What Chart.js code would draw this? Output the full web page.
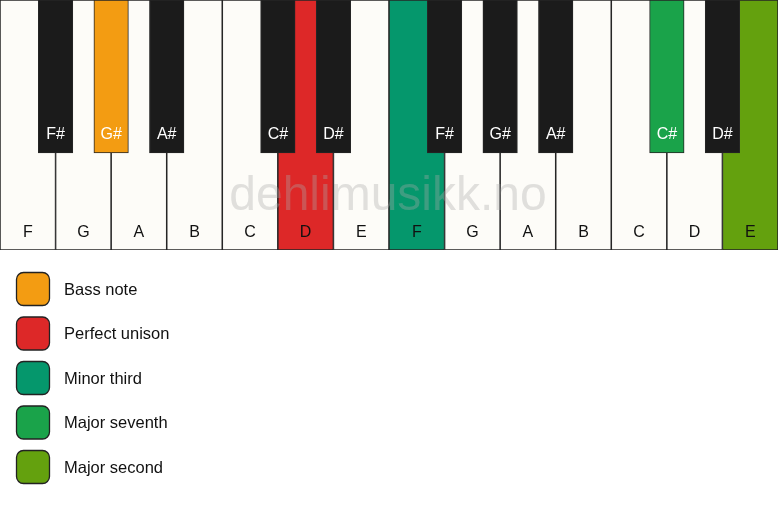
<!DOCTYPE html>
<html>
<head>
<meta charset="utf-8">
<script src="https://cdn.jsdelivr.net/npm/chart.js@4"></script>
<style>
  html, body { margin: 0; padding: 0; background: #fff; }
  #wrap { width: 778px; height: 506px; }
</style>
</head>
<body>
<div id="wrap"><canvas id="piano"></canvas></div>
<script>
const whiteKeys = ['F', 'G', 'A', 'B', 'C', 'D', 'E', 'F', 'G', 'A', 'B', 'C', 'D', 'E'];
const whiteColors = ['#fdfcf8', '#fdfcf8', '#fdfcf8', '#fdfcf8', '#fdfcf8', '#dd2828', '#fdfcf8',
                     '#05976c', '#fdfcf8', '#fdfcf8', '#fdfcf8', '#fdfcf8', '#fdfcf8', '#64a10e'];

const blackKeys = ['F#', 'G#', 'A#', 'C#', 'D#', 'F#', 'G#', 'A#', 'C#', 'D#'];
const blackPos = [1, 2, 3, 5, 6, 8, 9, 10, 12, 13];
const blackColors = ['#1b1b1b', '#f39c12', '#1b1b1b', '#1b1b1b', '#1b1b1b',
                     '#1b1b1b', '#1b1b1b', '#1b1b1b', '#1aa34a', '#1b1b1b'];

const whiteLen = 250;
const blackLen = 153;

const legendLabels = ['Bass note', 'Perfect unison', 'Minor third', 'Major seventh', 'Major second'];
const legendColors = ['#f39c12', '#dd2828', '#05976c', '#1aa34a', '#64a10e'];

const FONT = '"Liberation Sans", Arial, sans-serif';

const roundRect = (ctx, x, y, w, h, r) => {
    ctx.beginPath();
    ctx.moveTo(x + r, y);
    ctx.arcTo(x + w, y, x + w, y + h, r);
    ctx.arcTo(x + w, y + h, x, y + h, r);
    ctx.arcTo(x, y + h, x, y, r);
    ctx.arcTo(x, y, x + w, y, r);
    ctx.closePath();
};

const pianoText = {
    id: 'pianoText',
    afterDatasetsDraw(chart) {
        const ctx = chart.ctx;
        const whiteMeta = chart.getDatasetMeta(1);
        const blackMeta = chart.getDatasetMeta(0);
        ctx.save();
        ctx.textAlign = 'center';
        ctx.textBaseline = 'alphabetic';
        ctx.font = '16px ' + FONT;

        // white key names
        ctx.fillStyle = '#111';
        whiteMeta.data.forEach((bar, i) => {
            ctx.fillText(whiteKeys[i], bar.x, 237);
        });

        // black key names
        ctx.fillStyle = '#fff';
        blackMeta.data.forEach((bar, i) => {
            ctx.fillText(blackKeys[i], bar.x, 139);
        });

        // watermark
        ctx.font = '48px ' + FONT;
        ctx.fillStyle = 'rgba(170, 170, 170, 0.35)';
        ctx.fillText('dehlimusikk.no', 388, 210);

        // legend
        ctx.textAlign = 'left';
        ctx.textBaseline = 'middle';
        ctx.font = '16.5px ' + FONT;
        legendLabels.forEach((lab, i) => {
            const cy = 289 + i * 44.5;
            roundRect(ctx, 16.5, cy - 16.5, 33, 33, 7);
            ctx.fillStyle = legendColors[i];
            ctx.fill();
            ctx.lineWidth = 1.3;
            ctx.strokeStyle = '#222';
            ctx.stroke();
            ctx.fillStyle = '#111';
            ctx.fillText(lab, 64, cy + 1);
        });
        ctx.restore();
    }
};

new Chart(document.getElementById('piano'), {
    type: 'bar',
    data: {
        labels: whiteKeys,
        datasets: [
            {
                label: 'black',
                data: blackPos.map(p => ({ x: p, y: [0, blackLen] })),
                xAxisID: 'xb',
                backgroundColor: blackColors,
                borderColor: '#262626',
                borderWidth: 1,
                borderSkipped: false,
                grouped: false,
                barThickness: 34.5,
                order: 0
            },
            {
                label: 'white',
                data: whiteKeys.map(() => [0, whiteLen]),
                xAxisID: 'x',
                backgroundColor: whiteColors,
                borderColor: '#262626',
                borderWidth: 1.1,
                borderSkipped: false,
                grouped: false,
                barPercentage: 1,
                categoryPercentage: 1,
                order: 1
            }
        ]
    },
    options: {
        responsive: true,
        maintainAspectRatio: false,
        animation: false,
        layout: { padding: { left: 0, right: 0, top: 0, bottom: 256 } },
        plugins: {
            legend: { display: false },
            tooltip: { enabled: false }
        },
        scales: {
            x: { type: 'category', display: false, offset: true, grid: { display: false } },
            xb: { type: 'linear', display: false, offset: false, min: 0, max: 14, ticks: { stepSize: 1 } },
            y: { type: 'linear', display: false, min: 0, max: whiteLen, reverse: true }
        }
    },
    plugins: [pianoText]
});
</script>
</body>
</html>
